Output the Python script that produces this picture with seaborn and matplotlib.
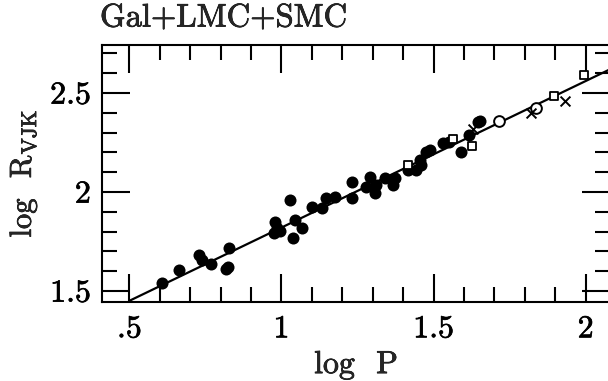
import numpy as np
import pandas as pd
import matplotlib
matplotlib.use("Agg")
import matplotlib.pyplot as plt
import matplotlib.patheffects as pe
import seaborn as sns
from matplotlib.ticker import MultipleLocator, FixedLocator, FixedFormatter

# ---- data ----
filled_logP = [0.607, 0.664, 0.729, 0.738, 0.769, 0.826, 0.818, 0.824,
               0.980, 0.985, 0.975, 0.995, 1.028, 1.044, 1.039, 1.066,
               1.099, 1.132, 1.148, 1.175, 1.233, 1.233, 1.277, 1.292,
               1.307, 1.312, 1.339, 1.365, 1.372, 1.416, 1.443, 1.454,
               1.476, 1.460, 1.487, 1.531, 1.552, 1.591, 1.618, 1.645, 1.654]
filled_logR = [1.542, 1.606, 1.682, 1.657, 1.636, 1.716, 1.611, 1.620,
               1.850, 1.820, 1.790, 1.805, 1.960, 1.859, 1.766, 1.817,
               1.926, 1.918, 1.968, 1.973, 2.052, 1.968, 2.024, 2.074,
               1.997, 2.035, 2.069, 2.035, 2.069, 2.111, 2.111, 2.162,
               2.204, 2.136, 2.212, 2.246, 2.254, 2.204, 2.288, 2.355, 2.360]
opencirc_logP = [1.714, 1.836]
opencirc_logR = [2.359, 2.423]
square_logP = [1.416, 1.563, 1.626, 1.897, 1.995]
square_logR = [2.136, 2.268, 2.234, 2.485, 2.591]
cross_logP = [1.628, 1.820, 1.933]
cross_logR = [2.317, 2.397, 2.461]

fit_slope = 0.74
fit_intercept = 1.08
fit_range = [0.5, 2.1]

xtick_vals = [0.5, 1.0, 1.5, 2.0]
xtick_labels = [".5", "1", "1.5", "2"]
ytick_vals = [1.5, 2.0, 2.5]
ytick_labels = ["1.5", "2", "2.5"]

title = "Gal+LMC+SMC"

# ---- figure ----
sns.set_style("ticks")
plt.rcParams["font.family"] = ["cmr10", "DejaVu Serif"]
plt.rcParams["mathtext.fontset"] = "cm"
plt.rcParams["axes.formatter.use_mathtext"] = True

fig = plt.figure(figsize=(6.08, 3.81), dpi=100)
ax = fig.add_axes([102 / 608, 1 - 302 / 381, (610 - 102) / 608, (302 - 45) / 381])

df = pd.concat([
    pd.DataFrame({"logP": filled_logP, "logR": filled_logR, "kind": "filled"}),
    pd.DataFrame({"logP": opencirc_logP, "logR": opencirc_logR, "kind": "opencirc"}),
    pd.DataFrame({"logP": square_logP, "logR": square_logR, "kind": "square"}),
    pd.DataFrame({"logP": cross_logP, "logR": cross_logR, "kind": "cross"}),
])

line_x = np.array(fit_range)
line_df = pd.DataFrame({"logP": line_x, "logR": fit_slope * line_x + fit_intercept})
sns.lineplot(data=line_df, x="logP", y="logR", ax=ax, color="black", lw=1.6, zorder=2)

sns.scatterplot(data=df[df.kind == "filled"], x="logP", y="logR", ax=ax,
                marker="o", s=75, color="black", edgecolor="black", linewidth=0, zorder=3)
sns.scatterplot(data=df[df.kind == "opencirc"], x="logP", y="logR", ax=ax,
                marker="o", s=60, facecolor="white", edgecolor="black", linewidth=1.4, zorder=3)
sns.scatterplot(data=df[df.kind == "square"], x="logP", y="logR", ax=ax,
                marker="s", s=36, facecolor="white", edgecolor="black", linewidth=1.3, zorder=3)
sns.scatterplot(data=df[df.kind == "cross"], x="logP", y="logR", ax=ax,
                marker="x", s=50, color="black", linewidth=1.4, zorder=4)

ax.set_xlim(0.41, 2.08)
ax.set_ylim(1.444, 2.742)

ax.xaxis.set_major_locator(FixedLocator(xtick_vals))
ax.xaxis.set_major_formatter(FixedFormatter(xtick_labels))
ax.yaxis.set_major_locator(FixedLocator(ytick_vals))
ax.yaxis.set_major_formatter(FixedFormatter(ytick_labels))
ax.xaxis.set_minor_locator(MultipleLocator(0.1))
ax.yaxis.set_minor_locator(MultipleLocator(0.1))

ax.tick_params(which="both", direction="in", top=True, right=True,
               width=1.5, colors="black", labelsize=23)
ax.tick_params(axis="x", which="major", pad=10)
ax.tick_params(axis="y", which="major", pad=8)
ax.tick_params(which="major", length=20)
ax.tick_params(which="minor", length=11)
for sp in ax.spines.values():
    sp.set_linewidth(1.5)
    sp.set_color("black")

ax.set_xlabel("log  P", fontsize=23, labelpad=6)
ax.set_ylabel(r"log  R$_{\rm VJK}$", fontsize=22, labelpad=8)
ttl = fig.text(100 / 608, 1 - 18 / 381, title, fontsize=23.5, ha="left", va="center")

thick = [pe.withStroke(linewidth=0.5, foreground="black")]
for t in ax.get_xticklabels() + ax.get_yticklabels() + [ax.xaxis.label, ax.yaxis.label, ttl]:
    t.set_path_effects(thick)

fig.savefig("out.png", dpi=100)
